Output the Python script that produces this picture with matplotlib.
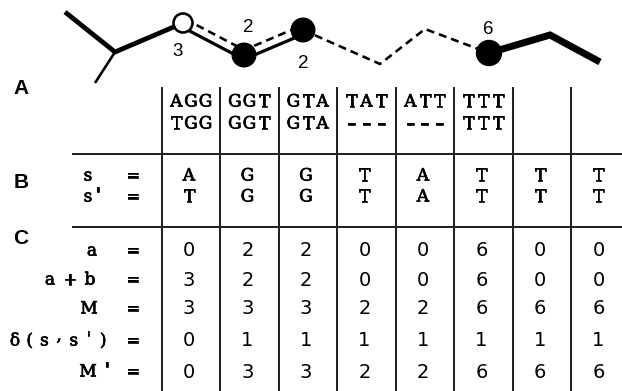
import matplotlib
matplotlib.use("Agg")
import matplotlib.pyplot as plt
import matplotlib.patheffects as pe
from matplotlib.patches import Circle

# Codon pairs aligned in panel A (top: s, bottom: s')
codons_top = ["AGG", "GGT", "GTA", "TAT", "ATT", "TTT", "", ""]
codons_bottom = ["TGG", "GGT", "GTA", "---", "---", "TTT", "", ""]

# Panel B: characters of s and s'
s_chars = ["A", "G", "G", "T", "A", "T", "T", "T"]
s_prime_chars = ["T", "G", "G", "T", "A", "T", "T", "T"]

# Panel C: recurrence values
row_labels = ["a", "a+b", "M", "δ(s,s')", "M'"]
a_vals = [0, 2, 2, 0, 0, 6, 0, 0]
ab_vals = [3, 2, 2, 0, 0, 6, 0, 0]
M_vals = [3, 3, 3, 2, 2, 6, 6, 6]
delta_vals = [0, 1, 1, 1, 1, 1, 1, 1]
Mp_vals = [0, 3, 3, 2, 2, 6, 6, 6]

# Edge weights on the tree
edge_weights = ["3", "2", "2", "6"]

W, H = 622, 391
fig = plt.figure(figsize=(W / 100, H / 100), dpi=100)
ax = fig.add_axes([0, 0, 1, 1])
ax.set_xlim(0, W)
ax.set_ylim(H, 0)
ax.axis("off")

PX = 0.72  # points per pixel at 100 dpi
SERIF = "DejaVu Serif"
SANS = "Liberation Sans"
FS = 12.2
heavier = [pe.withStroke(linewidth=0.5, foreground="black")]

# ---- tree / path sketch ----
ax.plot([65, 115, 183], [12, 52, 23], color="black", lw=4.8 * PX,
        solid_capstyle="butt", solid_joinstyle="miter")
ax.plot([115, 95], [52, 83], color="black", lw=2.6 * PX, solid_capstyle="butt")

nodes = [(183, 23), (244, 55), (303, 30), (489, 53)]


def offset_seg(p, q, d):
    dx, dy = q[0] - p[0], q[1] - p[1]
    n = (dx * dx + dy * dy) ** 0.5
    nx, ny = -dy / n, dx / n
    return [p[0] + nx * d, q[0] + nx * d], [p[1] + ny * d, q[1] + ny * d]


dash = (0, (8 / 2.6, 5 / 2.6))
for p, q in [(nodes[0], nodes[1]), (nodes[1], nodes[2])]:
    xs, ys = offset_seg(p, q, 4)
    ax.plot(xs, ys, color="black", lw=3.2 * PX, solid_capstyle="butt")
    xs, ys = offset_seg(p, q, -4.5)
    ax.plot(xs, ys, color="black", lw=2.6 * PX, linestyle=dash)

ax.plot([303, 380, 425, 489], [30, 64, 29, 53], color="black",
        lw=2.6 * PX, linestyle=dash)
ax.plot([489, 550, 600], [53, 35, 62], color="black", lw=7 * PX,
        solid_capstyle="butt", solid_joinstyle="miter")

ax.add_patch(Circle(nodes[0], 9.5, facecolor="white", edgecolor="black",
                    lw=2.6 * PX, zorder=5))
for c, r in zip(nodes[1:], [11.8, 11.8, 12.5]):
    ax.add_patch(Circle(c, r, facecolor="black", edgecolor="black", zorder=5))

for (x, y), t in zip([(178, 51), (248, 27), (303, 63), (488, 29)], edge_weights):
    ax.text(x, y, t, fontsize=13.5, family=SANS, ha="center", va="center")

# ---- panel letters ----
for lbl, y in [("A", 88), ("B", 182), ("C", 238)]:
    ax.text(21, y, lbl, fontsize=15, family=SANS, fontweight="bold",
            ha="center", va="center")

# ---- grid ----
col_lines = [161.7 + 58.5 * i for i in range(8)]
centers = [c + 29.25 - 2 for c in col_lines]
for x in col_lines:
    ax.plot([x, x], [88, H + 2], color="#222222", lw=2 * PX)
for y in [154, 227]:
    ax.plot([73, W + 2], [y, y], color="#222222", lw=2 * PX)

pitch = 14.6


def glyph(x, y, ch):
    dy = 0
    if ch == "-":
        ch = "\u2013"
    elif ch == ",":
        dy = -5
    elif ch == "'":
        dy = -2
    ax.text(x, y + dy, ch, fontsize=FS, family=SERIF, ha="center",
            va="center", path_effects=heavier)


def spaced(x, y, word, step=pitch):
    n = len(word)
    for k, ch in enumerate(word):
        glyph(x + (k - (n - 1) / 2) * step, y, ch)


def from_left(x0, y, word, step=pitch):
    for k, ch in enumerate(word):
        glyph(x0 + k * step, y, ch)


for cx, top, bot in zip(centers, codons_top, codons_bottom):
    spaced(cx + 2, 102, top)
    spaced(cx + 2, 124, bot)

# ---- panel B ----
from_left(88, 176, "s")
from_left(88, 197, "s'", 10)
for y in [176, 197]:
    glyph(133, y, "=")
for cx, c1, c2 in zip(centers, s_chars, s_prime_chars):
    glyph(cx, 176, c1)
    glyph(cx, 197, c2)

# ---- panel C ----
row_y = [251, 280, 309, 341, 372]
label_start = [92, 50, 89, 15, 88]
label_step = [pitch, 20, pitch, 14.7, 19]
for lbl, y, x0, st in zip(row_labels, row_y, label_start, label_step):
    from_left(x0, y, lbl, st)
    glyph(133, y, "=")

for vals, y in zip([a_vals, ab_vals, M_vals, delta_vals, Mp_vals], row_y):
    for cx, v in zip(centers, vals):
        ax.text(cx, y, str(v), fontsize=14, family="DejaVu Sans",
                ha="center", va="center")

fig.savefig("out.png", dpi=100)
